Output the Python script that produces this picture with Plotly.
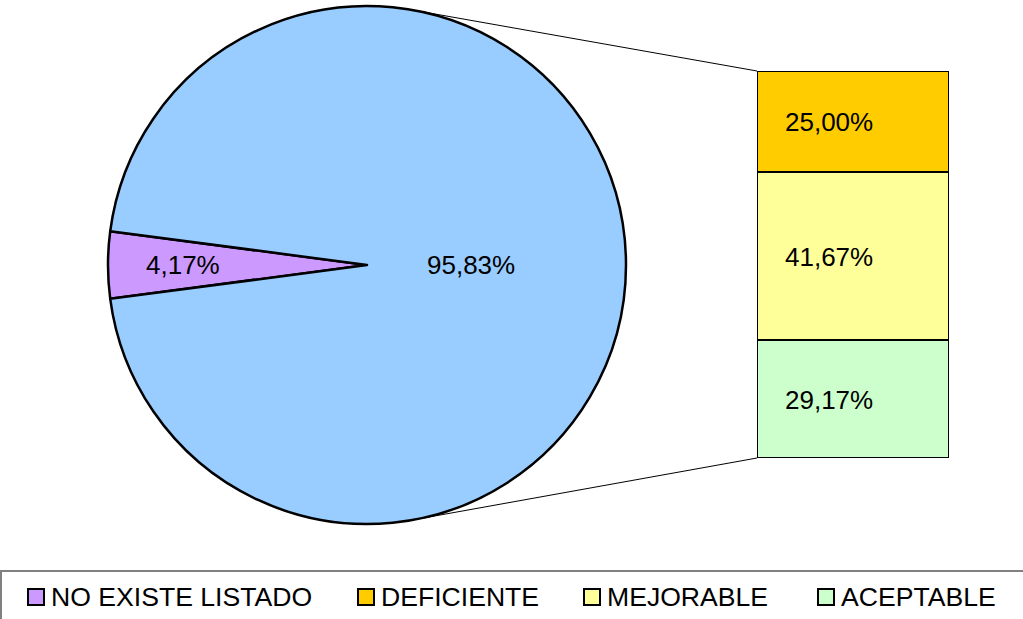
import math
import plotly.graph_objects as go

W, H = 1023, 619

# ---- data ----
pie_labels = ["NO EXISTE LISTADO", "OTROS"]
pie_values = [4.17, 95.83]
pie_text = ["4,17%", "95,83%"]
pie_colors = ["#CC99FF", "#99CCFF"]

bar_categories = ["ACEPTABLE", "MEJORABLE", "DEFICIENTE"]  # bottom to top
bar_values = [29.17, 41.67, 25.00]
bar_text = ["29,17%", "41,67%", "25,00%"]
bar_colors = ["#CCFFCC", "#FFFF99", "#FFCC00"]

legend_names = ["NO EXISTE LISTADO", "DEFICIENTE", "MEJORABLE", "ACEPTABLE"]
legend_colors = ["#CC99FF", "#FFCC00", "#FFFF99", "#CCFFCC"]

FONT = "Arial, Liberation Sans, sans-serif"

# ---- layout geometry (pixels) ----
pie_px = dict(x0=108, x1=626, y0=5, y1=525)
bar_px = dict(x0=757, x1=949, y0=71, y1=458)


def px_x(x):
    return x / W


def px_y(y):
    return 1 - y / H


pie_dom_x = [px_x(pie_px["x0"]), px_x(pie_px["x1"])]
pie_dom_y = [px_y(pie_px["y1"]), px_y(pie_px["y0"])]
bar_dom_x = [px_x(bar_px["x0"]), px_x(bar_px["x1"])]
bar_dom_y = [px_y(bar_px["y1"]), px_y(bar_px["y0"])]

# pie geometry
cx = (pie_px["x0"] + pie_px["x1"]) / 2
cy = (pie_px["y0"] + pie_px["y1"]) / 2
r = min(pie_px["x1"] - pie_px["x0"], pie_px["y1"] - pie_px["y0"]) / 2
total_pie = sum(pie_values)
first_span = 360 * pie_values[0] / total_pie
rotation = 270 - first_span / 2  # first slice centred at 9 o'clock


def pie_point(angle_deg, frac):
    a = math.radians(angle_deg)
    return cx + frac * r * math.sin(a), cy - frac * r * math.cos(a)


fig = go.Figure()

fig.add_trace(go.Pie(
    labels=pie_labels, values=pie_values,
    marker=dict(colors=pie_colors, line=dict(color="black", width=2.5)),
    textinfo="none", sort=False, direction="clockwise", rotation=rotation,
    domain=dict(x=pie_dom_x, y=pie_dom_y), showlegend=False, hoverinfo="label+value",
))

for cat, val, col in zip(bar_categories, bar_values, bar_colors):
    fig.add_trace(go.Bar(
        x=["otros"], y=[val], name=cat, width=1,
        marker=dict(color=col, line=dict(color="black", width=2.5)),
        showlegend=False, xaxis="x", yaxis="y",
    ))

annotations = []
shapes = []

# pie labels
angle = rotation
label_frac = [0.71, 0.40]
for v, t, lf in zip(pie_values, pie_text, label_frac):
    span = 360 * v / total_pie
    mid = angle + span / 2
    px, py = pie_point(mid, lf)
    annotations.append(dict(x=px_x(px), y=px_y(py), xref="paper", yref="paper",
                            text=t, showarrow=False, xanchor="center", yanchor="middle",
                            font=dict(family=FONT, size=26, color="black")))
    angle += span

# bar labels
cum = 0
for v, t in zip(bar_values, bar_text):
    annotations.append(dict(x=0, y=cum + v / 2, xref="x", yref="y", text=t,
                            showarrow=False, xshift=-24, yshift=-1,
                            font=dict(family=FONT, size=26, color="black")))
    cum += v
bar_total = cum

# connector lines from pie to bar corners
for ang, by in [(10, bar_px["y0"]), (170, bar_px["y1"])]:
    px, py = pie_point(ang, 1.0)
    shapes.append(dict(type="line", xref="paper", yref="paper",
                       x0=px_x(px), y0=px_y(py), x1=px_x(bar_px["x0"]), y1=px_y(by),
                       line=dict(color="black", width=1)))

# legend box
shapes.append(dict(type="rect", xref="paper", yref="paper",
                   x0=px_x(1), x1=px_x(W + 10), y0=px_y(H + 10), y1=px_y(571),
                   line=dict(color="#808080", width=2), fillcolor="rgba(0,0,0,0)"))

# legend entries
sym_left = [28, 358, 584, 818]
for name, col, sx in zip(legend_names, legend_colors, sym_left):
    shapes.append(dict(type="rect", xref="paper", yref="paper",
                       x0=px_x(sx), x1=px_x(sx + 16), y0=px_y(605), y1=px_y(589),
                       line=dict(color="black", width=2), fillcolor=col))
    annotations.append(dict(x=px_x(sx + 21), y=px_y(597), xref="paper", yref="paper",
                            text=name, showarrow=False, xanchor="left", yanchor="middle",
                            font=dict(family=FONT, size=26.6, color="black")))

fig.update_layout(
    width=W, height=H,
    margin=dict(l=0, r=0, t=0, b=0),
    paper_bgcolor="white", plot_bgcolor="rgba(0,0,0,0)",
    barmode="stack", bargap=0,
    xaxis=dict(domain=bar_dom_x, range=[-0.5, 0.5], visible=False, fixedrange=True),
    yaxis=dict(domain=bar_dom_y, range=[0, bar_total], visible=False, fixedrange=True),
    annotations=annotations, shapes=shapes, showlegend=False,
)

fig.write_html("out.html", config={"displayModeBar": False},
               post_script="document.body.style.margin='0';document.body.style.overflow='hidden';")
